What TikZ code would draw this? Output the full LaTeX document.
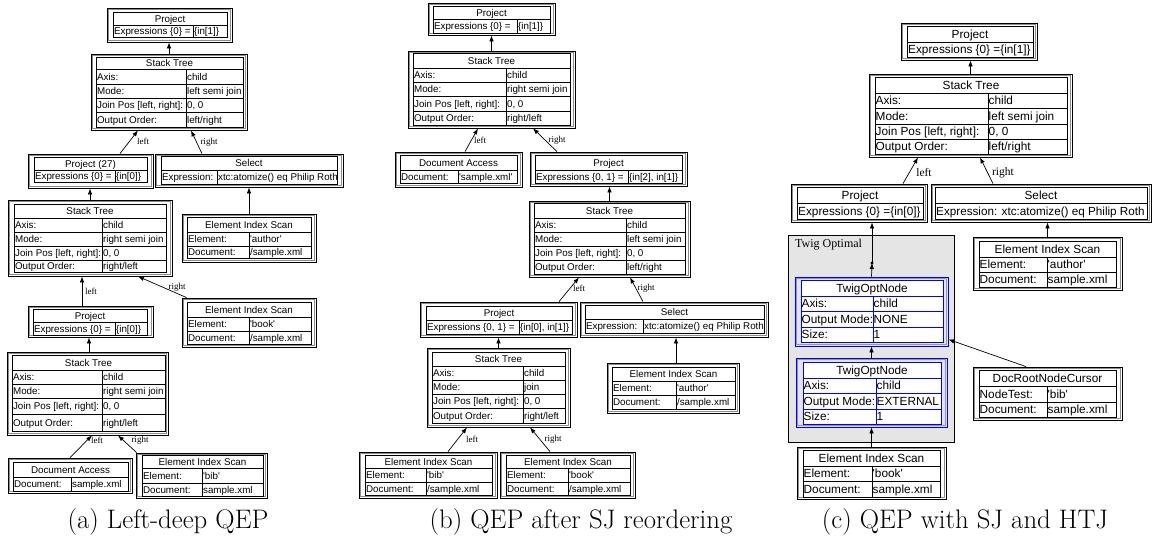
\documentclass[tikz,border=0pt]{standalone}
\usepackage{fontspec}
\newfontfamily\boxfont{Liberation Sans}[Ligatures=TeXOff]
\newfontfamily\labfont{Liberation Serif}
\usetikzlibrary{arrows.meta,fit}
\newcounter{tn}
\newcommand\obox[6]{%
  \node[draw=#6, line width=0.8pt, inner sep=0pt, fit={(#2,#3)(#4,#5)}] (#1) {};
  \draw[#6!45, line width=0.5pt] ({#2+1.6},{#3+1.6}) rectangle ({#4-1.6},{#5-1.6});
}
\newcommand\thd[6]{%
  \draw[#6, fill=white, line width=0.6pt] (#1,#3) rectangle (#2,#4);
  \stepcounter{tn}\node[txt, anchor=base] (t\the\value{tn}) at ({(#1+#2)/2},{(#3+#4)/2+\bo}) {#5};
}
\newcommand\trow[8]{%
  \draw[#8, fill=white, line width=0.6pt] (#1,#4) rectangle (#3,#5);
  \draw[#8, line width=0.6pt] (#2,#4) -- (#2,#5);
  \stepcounter{tn}\node[txt, anchor=base west] (t\the\value{tn}) at ({#1+\pd},{(#4+#5)/2+\bo}) {#6};
  \stepcounter{tn}\node[txt, anchor=base west] (t\the\value{tn}) at ({#2+\pd},{(#4+#5)/2+\bo}) {#7};
}
\newcommand\tone[6]{%
  \draw[#6, fill=white, line width=0.6pt] (#1,#3) rectangle (#2,#4);
  \stepcounter{tn}\node[txt, anchor=base west] (t\the\value{tn}) at ({#1+1},{(#3+#4)/2+\bo}) {#5};
}
\begin{document}
\begin{tikzpicture}[x=1pt,y=-1pt,
  txt/.style={font=\boxfont\fs, inner sep=0pt, text=black},
  lab/.style={font=\labfont\fontsize{9}{10}\selectfont, inner sep=0pt},
  labc/.style={font=\labfont\fontsize{11.5}{12}\selectfont, inner sep=0pt},
  captext/.style={font=\fontsize{26.8}{30}\selectfont, inner sep=0pt},
  arr/.style={-{Latex[length=6pt,width=4.5pt]}, line width=0.7pt}]
\useasboundingbox (0,0) rectangle (1157,539);
\fill[white] (0,0) rectangle (1157,539);
% ---------------- panel (a)
\def\fs{\fontsize{9.8}{11}\selectfont}\def\bo{3.5}\def\pd{0.9}
\obox{A1}{107}{8}{232}{42}{black}
\thd{113}{227}{12}{25}{Project}{black}
\trow{113}{193}{227}{25}{37}{Expressions \{0\} =}{\{in[1]\}}{black}
\obox{A2}{91}{54}{247}{130}{black}
\thd{96}{243}{57}{69}{Stack Tree}{black}
\trow{96}{186}{243}{69}{84}{Axis:}{child}{black}
\trow{96}{186}{243}{84}{98}{Mode:}{left semi join}{black}
\trow{96}{186}{243}{98}{112}{Join Pos [left, right]:}{0, 0}{black}
\trow{96}{186}{243}{112}{127}{Output Order:}{left/right}{black}
\obox{A3}{28}{154}{153}{188}{black}
\thd{34}{147}{157}{170}{Project (27)}{black}
\trow{34}{115}{147}{170}{182}{Expressions \{0\} =}{\{in[0]\}}{black}
\obox{A4}{155}{154}{343}{187}{black}
\thd{161}{337}{156}{170}{Select}{black}
\trow{161}{217}{337}{170}{184}{Expression:}{xtc:atomize() eq Philip Roth}{black}
\obox{A5}{8}{200}{172}{276}{black}
\thd{14}{166}{204}{218}{Stack Tree}{black}
\trow{14}{102}{166}{218}{232}{Axis:}{child}{black}
\trow{14}{102}{166}{232}{246}{Mode:}{right semi join}{black}
\trow{14}{102}{166}{246}{260}{Join Pos [left, right]:}{0, 0}{black}
\trow{14}{102}{166}{260}{272}{Output Order:}{right/left}{black}
\obox{A6}{182}{214}{316}{262}{black}
\thd{187}{311}{217}{232}{Element Index Scan}{black}
\trow{187}{249}{311}{232}{246}{Element:}{'author'}{black}
\trow{187}{249}{311}{246}{258}{Document:}{/sample.xml}{black}
\obox{A7}{182}{298}{316}{347}{black}
\thd{187}{311}{302}{317}{Element Index Scan}{black}
\trow{187}{249}{311}{317}{331}{Element:}{'book'}{black}
\trow{187}{249}{311}{331}{344}{Document:}{/sample.xml}{black}
\obox{A8}{28}{306}{153}{337}{black}
\thd{33}{147}{309}{322}{Project}{black}
\trow{33}{115}{147}{322}{335}{Expressions \{0\} =}{\{in[0]\}}{black}
\obox{A9}{7}{352}{168}{435}{black}
\thd{12}{165}{355}{370}{Stack Tree}{black}
\trow{12}{102}{165}{370}{384}{Axis:}{child}{black}
\trow{12}{102}{165}{384}{398}{Mode:}{right semi join}{black}
\trow{12}{102}{165}{398}{414}{Join Pos [left, right]:}{0, 0}{black}
\trow{12}{102}{165}{414}{431}{Output Order:}{right/left}{black}
\obox{A10}{8}{458}{132}{493}{black}
\thd{13}{128}{462}{477}{Document Access}{black}
\trow{13}{71}{128}{477}{491}{Document:}{sample.xml}{black}
\obox{A11}{136}{453}{267}{498}{black}
\thd{142}{263}{455}{468}{Element Index Scan}{black}
\trow{142}{202}{263}{468}{483}{Element:}{'bib'}{black}
\trow{142}{202}{263}{483}{496}{Document:}{sample.xml}{black}
\draw[arr] (A2.north) -- (A2.north |- A1.south);
\draw[arr] ([xshift=29.5pt]A3.north) -- ([xshift=-31pt]A2.south);
\node[lab] (la1) at (143,141) {left};
\draw[arr] ([xshift=-47pt]A4.north) -- ([xshift=22pt]A2.south);
\node[lab] (la2) at (209,142) {right};
\draw[arr] (A5.north) -- (A5.north |- A3.south);
\draw[arr] (A6.north) -- (A6.north |- A4.south);
\draw[arr] ([xshift=-8.5pt]A8.north) -- ([xshift=-8pt]A5.south);
\node[lab] (la3) at (91,291) {left};
\draw[arr] ([xshift=5pt]A7.north west) -- ([xshift=48pt]A5.south);
\node[lab] (la4) at (177,287) {right};
\draw[arr] ([xshift=1.5pt]A9.north) -- ([xshift=-1.5pt]A8.south);
\draw[arr] (A10.north) -- ([xshift=4.5pt]A9.south);
\node[lab] (la5) at (97,440) {left};
\draw[arr] ([xshift=1pt]A11.north west) -- ([xshift=30.5pt]A9.south);
\node[lab] (la6) at (140,440) {right};
\node[captext] (ca) at (168,522) {(a) Left-deep QEP};
% ---------------- panel (b)
\obox{B1}{428}{3}{555}{35}{black}
\thd{433}{550}{6}{19}{Project}{black}
\trow{433}{517}{550}{19}{33}{Expressions \{0\} =}{\{in[1]\}}{black}
\obox{B2}{408}{51}{575}{128}{black}
\thd{413}{570}{53}{68}{Stack Tree}{black}
\trow{413}{506}{570}{68}{82}{Axis:}{child}{black}
\trow{413}{506}{570}{82}{96}{Mode:}{right semi join}{black}
\trow{413}{506}{570}{96}{111}{Join Pos [left, right]:}{0, 0}{black}
\trow{413}{506}{570}{111}{125}{Output Order:}{right/left}{black}
\obox{B3}{395}{152}{522}{187}{black}
\thd{400}{517}{155}{170}{Document Access}{black}
\trow{400}{458}{517}{170}{183}{Document:}{'sample.xml'}{black}
\obox{B4}{530}{152}{687}{186}{black}
\thd{535}{682}{155}{170}{Project}{black}
\trow{535}{628}{682}{170}{183}{Expressions \{0, 1\} =}{\{in[2], in[1]\}}{black}
\obox{B5}{529}{201}{690}{277}{black}
\thd{534}{685}{203}{218}{Stack Tree}{black}
\trow{534}{626}{685}{218}{232}{Axis:}{child}{black}
\trow{534}{626}{685}{232}{246}{Mode:}{left semi join}{black}
\trow{534}{626}{685}{246}{260}{Join Pos [left, right]:}{0, 0}{black}
\trow{534}{626}{685}{260}{274}{Output Order:}{left/right}{black}
\obox{B6}{420}{302}{577}{337}{black}
\thd{426}{572}{306}{320}{Project}{black}
\trow{426}{519}{572}{320}{334}{Expressions \{0, 1\} =}{\{in[0], in[1]\}}{black}
\obox{B7}{580}{302}{768}{337}{black}
\thd{585}{764}{305}{319}{Select}{black}
\trow{585}{643}{764}{319}{333}{Expression:}{xtc:atomize() eq Philip Roth}{black}
\obox{B8}{427}{348}{570}{427}{black}
\thd{432}{565}{352}{366}{Stack Tree}{black}
\trow{432}{523}{565}{366}{380}{Axis:}{child}{black}
\trow{432}{523}{565}{380}{394}{Mode:}{join}{black}
\trow{432}{523}{565}{394}{408}{Join Pos [left, right]:}{0, 0}{black}
\trow{432}{523}{565}{408}{423}{Output Order:}{right/left}{black}
\obox{B9}{607}{363}{739}{413}{black}
\thd{612}{735}{367}{381}{Element Index Scan}{black}
\trow{612}{676}{735}{381}{395}{Element:}{'author'}{black}
\trow{612}{676}{735}{395}{409}{Document:}{/sample.xml}{black}
\obox{B10}{359}{452}{497}{498}{black}
\thd{365}{492}{455}{468}{Element Index Scan}{black}
\trow{365}{426}{492}{468}{482}{Element:}{'bib'}{black}
\trow{365}{426}{492}{482}{495}{Document:}{/sample.xml}{black}
\obox{B11}{500}{452}{635}{498}{black}
\thd{506}{630}{455}{468}{Element Index Scan}{black}
\trow{506}{568}{630}{468}{482}{Element:}{'book'}{black}
\trow{506}{568}{630}{482}{495}{Document:}{/sample.xml}{black}
\draw[arr] (B2.north) -- (B2.north |- B1.south);
\draw[arr] ([xshift=6.5pt]B3.north) -- ([xshift=-13.5pt]B2.south);
\node[lab] (lb1) at (480,140) {left};
\draw[arr] ([xshift=-51.5pt]B4.north) -- ([xshift=41.5pt]B2.south);
\node[lab] (lb2) at (557,140) {right};
\draw[arr] (B5.north) -- (B5.north |- B4.south);
\draw[arr] ([xshift=60.5pt]B6.north) -- ([xshift=-30.5pt]B5.south);
\node[lab] (lb3) at (579,288) {left};
\draw[arr] ([xshift=-31pt]B7.north) -- ([xshift=20.5pt]B5.south);
\node[lab] (lb4) at (646,288) {right};
\draw[arr] (B8.north) -- (B8.north |- B6.south);
\draw[arr] ([xshift=3pt]B9.north) -- ([xshift=3pt]B9.north |- B7.south);
\draw[arr] ([xshift=20pt]B10.north) -- ([xshift=-31.5pt]B8.south);
\node[lab] (lb5) at (472,439) {left};
\draw[arr] ([xshift=-17.5pt]B11.north) -- ([xshift=31.5pt]B8.south);
\node[lab] (lb6) at (553,439) {right};
\node[captext] (cb) at (581,522) {(b) QEP after SJ reordering};
% ---------------- panel (c)
\def\fs{\fontsize{11.8}{13}\selectfont}\def\bo{4.2}\def\pd{0.5}
\node[fill=black!10, draw, line width=0.7pt, inner sep=0pt, fit={(788,235)(954,442)}] (TW) {};
\node[font=\labfont\fontsize{12}{13}\selectfont, inner sep=0pt, anchor=west] (twl) at (795,245) {Twig Optimal};
\obox{C1}{901}{23}{1037}{60}{black}
\thd{907}{1033}{26}{42}{Project}{black}
\tone{907}{1033}{42}{57}{Expressions \{0\} =\{in[1]\}}{black}
\obox{C2}{869}{74}{1072}{157}{black}
\thd{875}{1067}{77}{93}{Stack Tree}{black}
\trow{875}{988}{1067}{93}{108}{Axis:}{child}{black}
\trow{875}{988}{1067}{108}{124}{Mode:}{left semi join}{black}
\trow{875}{988}{1067}{124}{139}{Join Pos [left, right]:}{0, 0}{black}
\trow{875}{988}{1067}{139}{154}{Output Order:}{left/right}{black}
\obox{C3}{791}{184}{927}{222}{black}
\thd{797}{923}{187}{203}{Project}{black}
\tone{797}{923}{203}{219}{Expressions \{0\} =\{in[0]\}}{black}
\obox{C4}{931}{184}{1151}{222}{black}
\thd{935}{1147}{187}{203}{Select}{black}
\tone{935}{1147}{203}{219}{{\fontsize{11.7}{12}\selectfont Expression: xtc:atomize() eq Philip Roth}}{black}
\obox{C5}{795}{277}{948}{346}{blue}
\thd{801}{943}{280}{296}{TwigOptNode}{blue}
\trow{801}{873}{943}{296}{311}{Axis:}{child}{blue}
\trow{801}{873}{943}{311}{327}{Output Mode:}{NONE}{blue}
\trow{801}{873}{943}{327}{342}{Size:}{1}{blue}
\obox{C6}{796}{358}{947}{427}{blue}
\thd{803}{941}{362}{378}{TwigOptNode}{blue}
\trow{803}{876}{941}{378}{393}{Axis:}{child}{blue}
\trow{803}{876}{941}{393}{409}{Output Mode:}{EXTERNAL}{blue}
\trow{803}{876}{941}{409}{424}{Size:}{1}{blue}
\obox{C7}{797}{447}{946}{499}{black}
\thd{803}{940}{450}{466}{Element Index Scan}{black}
\trow{803}{872}{940}{466}{481}{Element:}{'book'}{black}
\trow{803}{872}{940}{481}{497}{Document:}{sample.xml}{black}
\obox{C8}{973}{237}{1122}{290}{black}
\thd{979}{1116}{241}{257}{Element Index Scan}{black}
\trow{979}{1047}{1116}{257}{272}{Element:}{'author'}{black}
\trow{979}{1047}{1116}{272}{287}{Document:}{sample.xml}{black}
\obox{C9}{973}{367}{1122}{420}{black}
\thd{979}{1116}{370}{386}{DocRootNodeCursor}{black}
\trow{979}{1047}{1116}{386}{402}{NodeTest:}{ 'bib'}{black}
\trow{979}{1047}{1116}{402}{417}{Document:}{sample.xml}{black}
\coordinate (dot) at (872,263);
\draw[arr] (C2.north) -- (C2.north |- C1.south);
\draw[arr] ([xshift=44pt]C3.north) -- ([xshift=-52.5pt]C2.south);
\node[labc] (lc1) at (924,173) {left};
\draw[arr] ([xshift=-48pt]C4.north) -- ([xshift=9.5pt]C2.south);
\node[labc] (lc2) at (1003,173) {right};
\draw[arr] (C5.north) -- (dot);
\fill (dot) circle (1.6pt);
\draw[arr] (dot) -- (dot |- C3.south);
\draw[arr] (C6.north) -- (C6.north |- C5.south);
\draw[arr] (C7.north) -- (C7.north |- C6.south);
\draw[arr] (C8.north) -- (C8.north |- C4.south);
\draw[arr] ([xshift=-21.5pt]C9.north) -- ([yshift=7pt]C5.south east);
\node[captext] (cc) at (965,522) {(c) QEP with SJ and HTJ};
\end{tikzpicture}
\end{document}
